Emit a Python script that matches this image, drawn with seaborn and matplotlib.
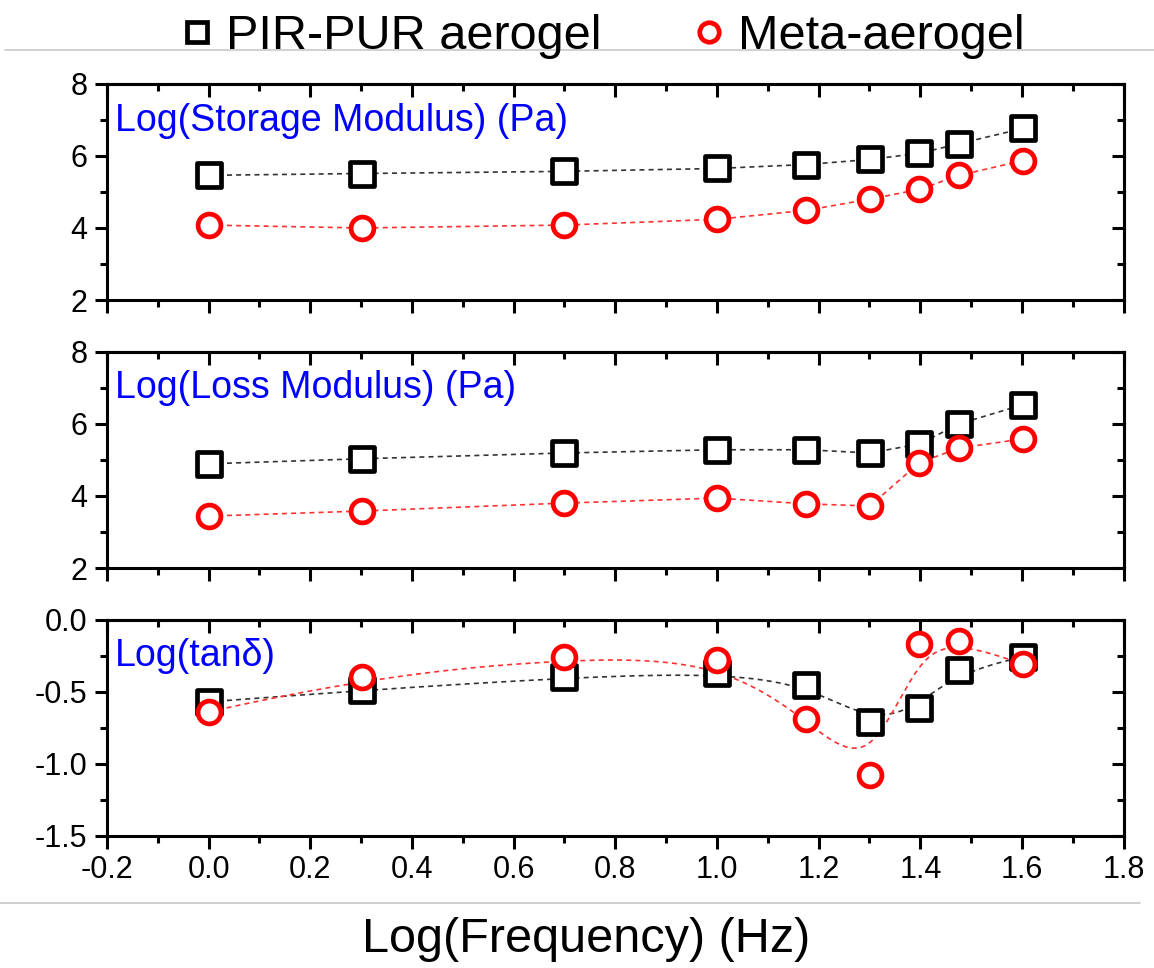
# Frequency sweep of two aerogels: storage modulus, loss modulus and tan delta

import numpy as np
import pandas as pd
import seaborn as sns
import matplotlib
matplotlib.use("Agg")
import matplotlib.pyplot as plt
from matplotlib.lines import Line2D
from matplotlib.ticker import MultipleLocator, FormatStrFormatter

# data
log_freq = [0.0, 0.301, 0.699, 1.0, 1.176, 1.301, 1.398, 1.477, 1.602]

storage_pir = [5.46, 5.51, 5.57, 5.65, 5.76, 5.90, 6.07, 6.34, 6.76]
storage_meta = [4.08, 4.00, 4.08, 4.24, 4.49, 4.80, 5.07, 5.46, 5.87]

loss_pir = [4.89, 5.03, 5.19, 5.28, 5.28, 5.19, 5.44, 6.00, 6.53]
loss_meta = [3.44, 3.58, 3.80, 3.94, 3.78, 3.72, 4.92, 5.33, 5.58]

tan_pir = [-0.57, -0.49, -0.40, -0.37, -0.45, -0.71, -0.61, -0.35, -0.26]
tan_meta = [-0.64, -0.40, -0.26, -0.28, -0.69, -1.08, -0.17, -0.15, -0.31]

series_names = ["PIR-PUR aerogel", "Meta-aerogel"]
panel_titles = ["Log(Storage Modulus) (Pa)", "Log(Loss Modulus) (Pa)", "Log(tan\u03b4)"]
x_label = "Log(Frequency) (Hz)"

sns.set_theme(style="white")
plt.rcParams['font.family'] = ['Liberation Sans', 'DejaVu Sans']
plt.rcParams['axes.unicode_minus'] = False
plt.rcParams['text.color'] = 'black'
plt.rcParams['xtick.color'] = 'black'
plt.rcParams['ytick.color'] = 'black'


def bspline(px, py, num=400):
    # clamped cubic B-spline with the points as control points (Origin style)
    px = np.asarray(px, float)
    py = np.asarray(py, float)
    n = len(px)
    k = 3
    m = n - k
    knots = np.concatenate([np.zeros(k), np.arange(m + 1), np.full(k, m)]).astype(float)
    t = np.linspace(0, m, num)
    t[-1] -= 1e-9

    def basis(i, d):
        if d == 0:
            return ((knots[i] <= t) & (t < knots[i + 1])).astype(float)
        out = np.zeros_like(t)
        den1 = knots[i + d] - knots[i]
        den2 = knots[i + d + 1] - knots[i + 1]
        if den1 > 0:
            out += (t - knots[i]) / den1 * basis(i, d - 1)
        if den2 > 0:
            out += (knots[i + d + 1] - t) / den2 * basis(i + 1, d - 1)
        return out

    B = np.array([basis(i, k) for i in range(n)])
    return B.T @ px, B.T @ py


fig = plt.figure(figsize=(11.54, 9.68), dpi=100)
left, width = 0.0927, 0.881
bottoms = [0.690, 0.4132, 0.1364]
height = 0.2235

panels = [
    (storage_pir, storage_meta, (2, 8), 2, 1, "%d", False),
    (loss_pir, loss_meta, (2, 8), 2, 1, "%d", False),
    (tan_pir, tan_meta, (-1.5, 0.0), 0.5, 0.25, "%.1f", True),
]

colors = ["black", "red"]
line_colors = ["#333333", "#ff3030"]
markers = ["s", "o"]

for bottom, (ya, yb, ylim, major, minor, fmt, smooth), title in zip(bottoms, panels, panel_titles):
    ax = fig.add_axes([left, bottom, width, height])
    for vals, c, lc, mk in zip([ya, yb], colors, line_colors, markers):
        if smooth:
            cx, cy = bspline(log_freq, vals)
        else:
            cx, cy = np.array(log_freq), np.array(vals)
        sns.lineplot(x=cx, y=cy, sort=False, estimator=None, ax=ax, color=lc,
                     linewidth=1.2, linestyle=(0, (3, 2.5)), zorder=2)
        df = pd.DataFrame({"x": log_freq, "y": vals})
        sns.scatterplot(data=df, x="x", y="y", ax=ax, marker=mk,
                        s=290 if mk == "s" else 270,
                        facecolor="white", edgecolor=c, linewidth=3.4, zorder=3)

    ax.set_xlim(-0.2, 1.8)
    ax.set_ylim(*ylim)
    ax.set_xlabel("")
    ax.set_ylabel("")
    ax.xaxis.set_major_locator(MultipleLocator(0.2))
    ax.xaxis.set_minor_locator(MultipleLocator(0.1))
    ax.yaxis.set_major_locator(MultipleLocator(major))
    ax.yaxis.set_minor_locator(MultipleLocator(minor))
    ax.yaxis.set_major_formatter(FormatStrFormatter(fmt))
    ax.xaxis.set_major_formatter(FormatStrFormatter("%.1f"))
    for sp in ax.spines.values():
        sp.set_linewidth(2.2)
        sp.set_color("black")
    ax.tick_params(which="both", direction="out", width=2.2, colors="black",
                   labelcolor="black", labelsize=22,
                   bottom=True, left=True, top=False, right=False)
    ax.tick_params(which="major", length=9, pad=5)
    ax.tick_params(which="minor", length=5)
    if not smooth:
        ax.tick_params(axis="x", labelbottom=False)

    # inward ticks on top and right
    top = ax.secondary_xaxis("top")
    top.xaxis.set_major_locator(MultipleLocator(0.2))
    top.xaxis.set_minor_locator(MultipleLocator(0.1))
    top.tick_params(which="both", direction="in", width=2.2, labeltop=False)
    top.tick_params(which="major", length=9)
    top.tick_params(which="minor", length=5)
    top.spines["top"].set_linewidth(2.2)
    right = ax.secondary_yaxis("right")
    right.yaxis.set_major_locator(MultipleLocator(major))
    right.yaxis.set_minor_locator(MultipleLocator(minor))
    right.tick_params(which="both", direction="in", width=2.2, labelright=False)
    right.tick_params(which="major", length=9)
    right.tick_params(which="minor", length=5)
    right.spines["right"].set_linewidth(2.2)

    ax.text(0.008, 0.83, title, transform=ax.transAxes, color="#0000ff",
            fontsize=27, ha="left", va="center")

# legend on top
handles = [Line2D([], [], linestyle="none", marker=mk, markersize=14,
                  markerfacecolor="white", markeredgecolor=c, markeredgewidth=3.4)
           for mk, c in zip(markers, colors)]
fig.legend(handles, series_names, loc="center", bbox_to_anchor=(0.522, 0.962), ncol=2,
           frameon=False, fontsize=35, handletextpad=0.25, columnspacing=1.85,
           handlelength=0.7)

# thin grey rules from the page
fig.add_artist(Line2D([0.004, 1.0], [0.948, 0.948], color="#c8c8c8", linewidth=1.2))
fig.add_artist(Line2D([0.0, 0.988], [0.067, 0.067], color="#c8c8c8", linewidth=1.2))

fig.text(0.508, 0.029, x_label, ha="center", va="center", fontsize=35)

fig.savefig("out.png", dpi=100)
